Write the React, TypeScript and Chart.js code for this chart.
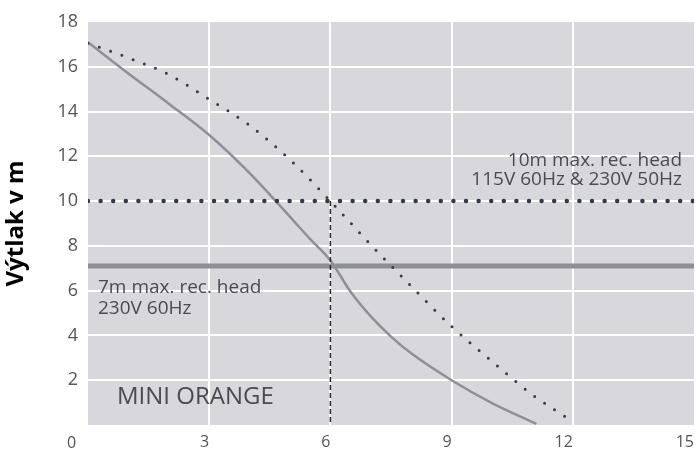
import React, { useEffect, useRef } from "react";
import { Chart, registerables } from "chart.js";

Chart.register(...registerables);

// ---- data ----
const xTickValues = [0, 3, 6, 9, 12, 15];
const yTickValues = [0, 2, 4, 6, 8, 10, 12, 14, 16, 18];

// 10 m max. rec. head curve (dotted)
const curve10X = [0, 1, 2, 3, 4, 5, 6, 7, 8, 9, 10, 11, 12];
const curve10Y = [17.05, 16.4, 15.65, 14.55, 13.38, 11.85, 10.0, 8.05, 6.2, 4.4, 2.84, 1.35, 0.15];

// 7 m max. rec. head curve (solid)
const curve7X = [0, 1, 2, 3, 4, 5, 5.5, 6, 6.5, 7, 7.5, 8, 9, 10, 11.1];
const curve7Y = [17.1, 15.7, 14.35, 12.95, 11.25, 9.3, 8.3, 7.35, 5.95, 4.85, 3.95, 3.2, 2.0, 0.98, 0.05];

const head10 = 10;
const head7 = 7.1;
const dutyFlow = 6;

const label10 = ["10m max. rec. head", "115V 60Hz & 230V 50Hz"];
const label7 = ["7m max. rec. head", "230V 60Hz"];
const modelName = "MINI ORANGE";
const yTitle = "Výtlak v m";

const FONT = "'Open Sans', 'Noto Sans', sans-serif";
const TEXT = "#4a4a54";

const toPts = (xs: number[], ys: number[]) => xs.map((x, i) => ({ x, y: ys[i] }));

const bgPlugin = {
  id: "plotBg",
  beforeDraw(chart: any) {
    const { ctx, chartArea } = chart;
    ctx.save();
    ctx.fillStyle = "#d8d7dc";
    ctx.fillRect(chartArea.left, chartArea.top, chartArea.right - chartArea.left, chartArea.bottom - chartArea.top);
    ctx.restore();
  },
};

const textPlugin = {
  id: "annot",
  afterDraw(chart: any) {
    const { ctx, scales } = chart;
    const xs = scales.x;
    const ys = scales.y;
    ctx.save();
    ctx.fillStyle = TEXT;
    ctx.textBaseline = "middle";
    // 10m text
    ctx.font = `19px ${FONT}`;
    ctx.textAlign = "right";
    const rx = xs.getPixelForValue(15) - 12;
    const y10 = ys.getPixelForValue(head10);
    ctx.fillText(label10[0], rx, y10 - 41);
    ctx.fillText(label10[1], rx, y10 - 22);
    // 7m text
    ctx.textAlign = "left";
    const lx = xs.getPixelForValue(0) + 10;
    const y7 = ys.getPixelForValue(head7);
    ctx.fillText(label7[0], lx, y7 + 21.5);
    ctx.fillText(label7[1], lx, y7 + 42.5);
    // model name
    ctx.font = `24px ${FONT}`;
    ctx.fillText(modelName, xs.getPixelForValue(0) + 29, ys.getPixelForValue(0) - 28);
    // origin label
    ctx.font = `16px ${FONT}`;
    ctx.textAlign = "center";
    ctx.fillStyle = "#555";
    ctx.fillText("0", 71.5, ys.getPixelForValue(0) + 18);
    ctx.restore();
  },
};

export default function App() {
  const ref = useRef<HTMLCanvasElement | null>(null);
  useEffect(() => {
    if (!ref.current) return;
    const chart = new Chart(ref.current, {
      type: "line",
      data: {
        datasets: [
          {
            label: "dutyLine",
            data: [{ x: dutyFlow, y: head10 }, { x: dutyFlow, y: 0 }],
            borderColor: "#2a2a36",
            borderWidth: 1.5,
            borderDash: [5, 3],
            pointRadius: 0,
          },
          {
            label: "10m curve",
            data: toPts(curve10X, curve10Y),
            borderColor: "#3a3a44",
            borderWidth: 3,
            borderDash: [0, 12],
            borderCapStyle: "round",
            cubicInterpolationMode: "monotone",
            pointRadius: 0,
          },
          {
            label: "10m head",
            data: [{ x: 0, y: head10 }, { x: 15, y: head10 }],
            borderColor: "#333a44",
            borderWidth: 4.5,
            borderDash: [0, 12.6],
            borderCapStyle: "round",
            pointRadius: 0,
          },
          {
            label: "7m curve",
            data: toPts(curve7X, curve7Y),
            borderColor: "#8f8f97",
            borderWidth: 2.5,
            cubicInterpolationMode: "monotone",
            pointRadius: 0,
          },
          {
            label: "7m head",
            data: [{ x: 0, y: head7 }, { x: 15, y: head7 }],
            borderColor: "#8e8e96",
            borderWidth: 5,
            pointRadius: 0,
          },
        ],
      },
      options: {
        animation: false,
        responsive: false,
        maintainAspectRatio: false,
        layout: { padding: { top: 22, right: 2, left: 0, bottom: 0 } },
        plugins: { legend: { display: false }, tooltip: { enabled: false } },
        scales: {
          x: {
            type: "linear",
            min: 0,
            max: 15,
            afterBuildTicks: (s: any) => {
              s.ticks = xTickValues.map((v) => ({ value: v }));
            },
            afterFit: (s: any) => {
              s.height = 27;
              s.paddingLeft = 0;
              s.paddingRight = 0;
            },
            ticks: {
              color: "#555",
              font: { family: FONT, size: 16 },
              padding: 8,
              align: "end",
              callback: (v: any) => (v === 0 ? "" : String(v)),
            },
            grid: {
              drawTicks: false,
              lineWidth: 2,
              color: (c: any) => (c.tick && (c.tick.value === 0 || c.tick.value === 15) ? "rgba(0,0,0,0)" : "#ffffff"),
            },
            border: { display: false },
          },
          y: {
            type: "linear",
            min: 0,
            max: 18,
            afterBuildTicks: (s: any) => {
              s.ticks = yTickValues.map((v) => ({ value: v }));
            },
            afterFit: (s: any) => {
              s.width = 88;
              s.paddingTop = 0;
              s.paddingBottom = 0;
            },
            ticks: {
              color: "#555",
              font: { family: FONT, size: 18 },
              padding: 10,
              callback: (v: any) => (v === 0 ? "" : String(v)),
            },
            grid: {
              drawTicks: false,
              lineWidth: 2,
              color: (c: any) => (c.tick && (c.tick.value === 0 || c.tick.value === 18) ? "rgba(0,0,0,0)" : "#ffffff"),
            },
            border: { display: false },
            title: {
              display: true,
              text: yTitle,
              color: "#000",
              font: { family: FONT, size: 24, weight: "bold" },
              padding: { top: 2, bottom: 0 },
            },
          },
        },
      },
      plugins: [bgPlugin, textPlugin],
    } as any);
    return () => chart.destroy();
  }, []);
  return (
    <div style={{ position: "fixed", left: 0, top: 0, width: 696, height: 452, background: "#fff" }}>
      <canvas ref={ref} width={696} height={452} style={{ display: "block", width: 696, height: 452 }} />
    </div>
  );
}
